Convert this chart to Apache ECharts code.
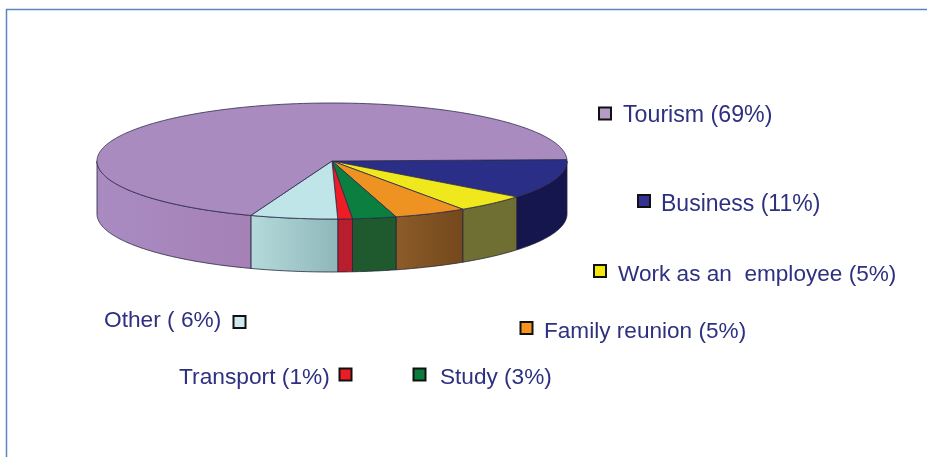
<!DOCTYPE html>
<html>
<head>
<meta charset="utf-8">
<style>
html,body{margin:0;padding:0;background:#fff;}
#main{width:927px;height:457px;}
</style>
<script src="https://cdn.jsdelivr.net/npm/echarts@6/dist/echarts.min.js"></script>
</head>
<body>
<div id="main"></div>
<script>
// data, clockwise from 3 o'clock
var categories = ['Business', 'Work as an employee', 'Family reunion', 'Study', 'Transport', 'Other', 'Tourism'];
var shares = [11, 5, 5, 3, 1, 6, 69];
var labels = ['Business (11%)', 'Work as an  employee (5%)', 'Family reunion (5%)', 'Study (3%)', 'Transport (1%)', 'Other ( 6%)', 'Tourism (69%)'];

var topColors = ['#2b2e87', '#efe81c', '#ee9322', '#0a7f3f', '#ee1c25', '#bfe5e8', '#a98bc0'];
var sideFrom = ['#15164d', '#6f6f33', '#8c5c28', '#1e5a2e', '#b81e2d', '#b4dadc', '#a98bc2'];
var sideTo = ['#15164d', '#6f6f33', '#74481c', '#1e5a2e', '#b81e2d', '#8fb6b8', '#a581b6'];
var markColors = ['#333394', '#f5e80f', '#f7941d', '#0a7d3c', '#ed1c24', '#cfe9f0', '#b49cc6'];

// pie geometry in px
var cx = 332, cy = 161, rx = 235, ry = 58, depth = 53;
var startAngle = -1.4 * Math.PI / 180;
// marker centre x,y then text left x,y for each legend entry
var markPos = [[644, 201], [600, 271], [526.5, 328], [419.5, 374.5], [345.5, 374.5], [239.5, 322], [605, 113.5]];
var textPos = [[661, 205], [618, 275], [544, 332], [440, 378], [179, 378], [104, 321], [623, 116]];
var fontSizes = [23, 22.6, 22.6, 22.6, 22.75, 22.7, 23.2];

var total = shares.reduce(function (a, b) { return a + b; }, 0);

function sliceRange(i) {
  var before = 0;
  for (var k = 0; k < i; k++) before += shares[k];
  return [startAngle + before / total * Math.PI * 2, startAngle + (before + shares[i]) / total * Math.PI * 2];
}

function rimPoints(a0, a1, dy) {
  var n = Math.max(2, Math.ceil((a1 - a0) / 0.01));
  var pts = [];
  for (var i = 0; i <= n; i++) {
    var t = a0 + (a1 - a0) * i / n;
    pts.push([cx + rx * Math.cos(t), cy + dy + ry * Math.sin(t)]);
  }
  return pts;
}

function renderSide(params, api) {
  var r = sliceRange(params.dataIndex);
  var a0 = Math.max(r[0], 0);
  var a1 = Math.min(r[1], Math.PI);
  if (a0 >= Math.PI) return null;
  var pts = rimPoints(a0, a1, 0).concat(rimPoints(a0, a1, depth).reverse());
  return {
    type: 'polygon',
    shape: { points: pts },
    style: {
      fill: new echarts.graphic.LinearGradient(0, 0, 1, 0, [
        { offset: 0, color: sideFrom[params.dataIndex] },
        { offset: 1, color: sideTo[params.dataIndex] }
      ]),
      stroke: '#23233a',
      lineWidth: 0.8
    }
  };
}

function renderTop(params, api) {
  var r = sliceRange(params.dataIndex);
  var pts = [[cx, cy]].concat(rimPoints(r[0], r[1], 0));
  return {
    type: 'polygon',
    shape: { points: pts },
    style: { fill: topColors[params.dataIndex], stroke: '#2a2a4a', lineWidth: 0.8 }
  };
}

function renderLegend(params, api) {
  var i = params.dataIndex;
  return {
    type: 'group',
    children: [
      {
        type: 'rect',
        shape: { x: markPos[i][0] - 6, y: markPos[i][1] - 6, width: 12, height: 12 },
        style: { fill: markColors[i], stroke: '#111', lineWidth: 2 }
      },
      {
        type: 'text',
        style: {
          x: textPos[i][0],
          y: textPos[i][1],
          text: labels[i],
          fill: '#2e3080',
          font: fontSizes[i] + 'px "Liberation Sans"',
          textVerticalAlign: 'middle'
        }
      }
    ]
  };
}

var chart = echarts.init(document.getElementById('main'));

var rows = shares.map(function (v, i) { return { name: categories[i], value: v }; });

chart.setOption({
  animation: false,
  backgroundColor: '#fff',
  tooltip: { show: false },
  graphic: [
    { type: 'line', shape: { x1: 6, y1: 9.5, x2: 927, y2: 9.5 }, style: { stroke: '#5a84c4', lineWidth: 1.5 } },
    { type: 'line', shape: { x1: 6.5, y1: 9, x2: 6.5, y2: 457 }, style: { stroke: '#5a84c4', lineWidth: 1.5 } }
  ],
  series: [
    { type: 'custom', coordinateSystem: 'none', renderItem: renderSide, data: rows, z: 1 },
    { type: 'custom', coordinateSystem: 'none', renderItem: renderTop, data: rows, z: 2 },
    { type: 'custom', coordinateSystem: 'none', renderItem: renderLegend, data: rows, z: 3 }
  ]
});
</script>
</body>
</html>
